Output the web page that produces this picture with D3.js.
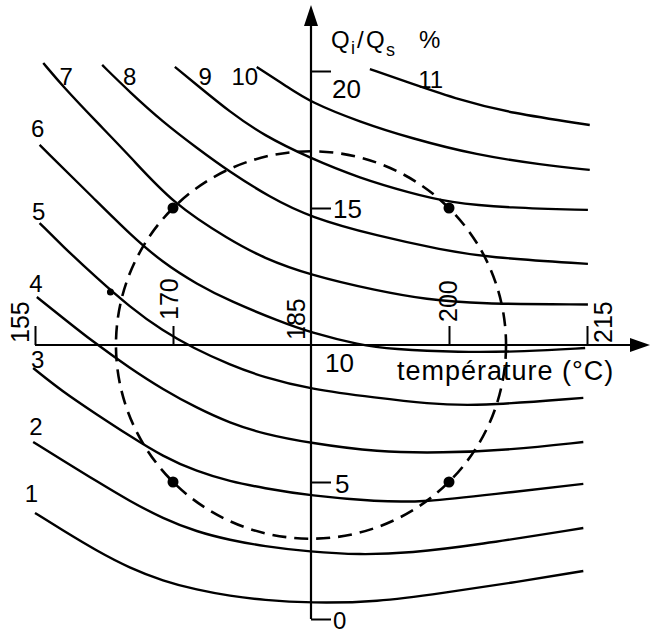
<!DOCTYPE html>
<html>
<head>
<meta charset="utf-8">
<script src="https://cdn.jsdelivr.net/npm/d3@7"></script>
<style>
  body { margin: 0; background: #fff; }
  svg { display: block; }
  text { font-family: "Liberation Sans", Arial, sans-serif; fill: #000; }
</style>
</head>
<body>
<div class="chart"></div>
<script>
// Iso-lines, [temperature °C, Qi/Qs %]
var curve1 = [[155.0,3.87],[158.0,3.24],[161.7,2.49],[165.3,1.86],[168.9,1.39],[172.6,1.06],[176.2,0.84],[179.8,0.69],[184.9,0.58],[192.2,0.62],[199.3,0.95],[206.6,1.31],[214.6,1.75]];
var curve2 = [[154.8,6.46],[158.0,5.79],[161.7,5.03],[165.3,4.30],[168.9,3.67],[172.6,3.18],[176.2,2.88],[179.8,2.66],[184.9,2.45],[190.3,2.34],[195.8,2.41],[203.0,2.70],[214.6,3.32]];
var curve3 = [[154.8,9.16],[158.0,8.30],[161.7,7.47],[165.3,6.68],[168.9,5.93],[172.6,5.38],[176.2,5.02],[179.8,4.78],[184.9,4.50],[192.2,4.28],[197.4,4.27],[204.7,4.55],[214.6,4.93]];
var curve4 = [[155.2,11.75],[158.0,11.00],[161.3,10.12],[165.3,9.16],[168.9,8.38],[172.6,7.70],[176.2,7.15],[179.8,6.76],[184.9,6.42],[192.2,6.09],[199.3,6.06],[206.6,6.17],[214.6,6.46]];
var curve5 = [[155.5,14.45],[158.0,13.61],[161.7,12.45],[165.3,11.39],[168.9,10.51],[172.2,9.89],[176.2,9.27],[179.8,8.83],[184.9,8.39],[192.2,8.07],[197.6,7.86],[203.0,7.76],[214.6,8.07]];
var curve6 = [[155.5,17.30],[161.7,15.25],[165.3,14.05],[168.9,13.00],[172.6,12.22],[176.2,11.60],[181.6,10.86],[184.9,10.46],[190.3,10.00],[193.8,9.85],[201.0,9.73],[208.3,9.76],[214.8,9.89]];
var curve7 = [[155.9,20.29],[158.0,19.45],[161.7,18.14],[165.3,16.90],[170.0,15.15],[176.2,13.83],[179.8,13.18],[184.9,12.55],[192.2,11.98],[197.6,11.66],[203.0,11.50],[215.1,11.48]];
var curve8 = [[162.3,20.22],[165.3,19.23],[168.9,18.14],[172.6,17.19],[176.2,16.31],[180.5,15.40],[184.9,14.66],[192.2,13.98],[199.3,13.47],[204.1,13.20],[215.1,12.96]];
var curve9 = [[170.2,20.15],[172.6,19.49],[176.2,18.50],[179.8,17.66],[184.9,16.82],[190.3,16.09],[195.8,15.55],[200.0,15.20],[206.6,15.00],[215.1,14.93]];
var curve10 = [[179.1,20.15],[182.4,19.43],[184.9,18.87],[190.3,18.14],[195.8,17.55],[203.0,16.93],[210.2,16.57],[215.3,16.39]];
var curve11 = [[191.4,20.07],[195.8,19.56],[201.2,18.94],[206.6,18.47],[215.3,18.03]];
var curves = [curve1, curve2, curve3, curve4, curve5, curve6, curve7, curve8, curve9, curve10, curve11];

// curve numbers and where they sit
var curveNames = ["1","2","3","4","5","6","7","8","9","10","11"];
var curveNamePos = [[154.6,4.27],[155.1,6.72],[155.3,9.16],[155.1,11.93],[155.4,14.56],[155.3,17.59],[158.4,19.49],[165.3,19.49],[173.5,19.49],[177.8,19.49],[198.0,19.38]];

// experimental design: centre, axial radius, factorial points
var designCentre = [185, 10];
var designRadius = [21.2, 7.07];
var designPoints = [[170,15],[200,15],[170,5],[200,5]];
var extraPoints = [[163.2,11.93]];

var xTicks = [155, 170, 185, 200, 215];
var yTicks = [0, 5, 10, 15, 20];

function init() {
  var w = 650;
  var h = 636;

  var x = d3.scaleLinear().domain([155, 215]).range([35, 587]);
  var y = d3.scaleLinear().domain([0, 20]).range([619, 71]);

  var svg = d3.select(".chart")
    .append("svg")
    .attr("width", w)
    .attr("height", h);

  svg.append("rect").attr("width", w).attr("height", h).attr("fill", "#fff");

  var ox = x(185), oy = y(10);

  // axis lines with arrows
  svg.append("line")
    .attr("x1", x(155)).attr("y1", oy).attr("x2", 634).attr("y2", oy)
    .attr("stroke", "#000").attr("stroke-width", 2);
  svg.append("path")
    .attr("d", "M650," + oy + "L630," + (oy - 7) + "L630," + (oy + 7) + "Z")
    .attr("fill", "#000");
  svg.append("line")
    .attr("x1", ox).attr("y1", y(0)).attr("x2", ox).attr("y2", 20)
    .attr("stroke", "#000").attr("stroke-width", 2.2);
  svg.append("path")
    .attr("d", "M" + ox + ",5L" + (ox - 7) + ",26L" + (ox + 7) + ",26Z")
    .attr("fill", "#000");

  // x ticks (pointing up, inside)
  var gx = svg.append("g")
    .attr("transform", "translate(0," + oy + ")")
    .call(d3.axisTop(x).tickValues(xTicks.filter(function (t) { return t !== 185; }))
      .tickSize(19).tickFormat(""));
  gx.select(".domain").remove();
  gx.selectAll(".tick line").attr("stroke", "#000").attr("stroke-width", 2);

  // y ticks (pointing right)
  var gy = svg.append("g")
    .attr("transform", "translate(" + ox + ",0)")
    .call(d3.axisRight(y).tickValues(yTicks.filter(function (t) { return t !== 10; }))
      .tickSize(20).tickFormat(""));
  gy.select(".domain").remove();
  gy.selectAll(".tick line").attr("stroke", "#000").attr("stroke-width", 2);

  // x tick labels, rotated
  var xLabelOff = { 155: [-15, -2], 170: [-4, -25], 185: [-15, -5], 200: [-1, -23], 215: [16, -2] };
  svg.selectAll(".xlab")
    .data(xTicks)
    .enter()
    .append("text")
    .attr("class", "xlab")
    .attr("transform", function (d) {
      return "translate(" + (x(d) + xLabelOff[d][0]) + "," + (oy + xLabelOff[d][1]) + ") rotate(-90)";
    })
    .attr("dominant-baseline", "central")
    .style("font-size", "25px")
    .text(function (d) { return d; });

  // y tick labels
  var yLabelOff = { 0: [22, 10], 5: [24, 11], 10: [14, 27], 15: [22, 10], 20: [21, 27] };
  svg.selectAll(".ylab")
    .data(yTicks)
    .enter()
    .append("text")
    .attr("class", "ylab")
    .attr("x", function (d) { return ox + yLabelOff[d][0]; })
    .attr("y", function (d) { return y(d) + yLabelOff[d][1]; })
    .style("font-size", function (d) { return d === 0 ? "24px" : "26px"; })
    .text(function (d) { return d; });

  // axis titles
  var yt = svg.append("g").style("font-size", "24px");
  yt.append("text").attr("x", 331).attr("y", 48).text("Q");
  yt.append("text").attr("x", 351).attr("y", 54).style("font-size", "18px").text("i");
  yt.append("text").attr("x", 357).attr("y", 48).text("/");
  yt.append("text").attr("x", 366).attr("y", 48).text("Q");
  yt.append("text").attr("x", 386).attr("y", 56).style("font-size", "18px").text("s");
  yt.append("text").attr("x", 419).attr("y", 48).text("%");

  svg.append("text")
    .attr("x", 397).attr("y", 380)
    .style("font-size", "27px")
    .style("letter-spacing", "1px")
    .text("température (°C)");

  // iso-lines
  var line = d3.line()
    .x(function (d) { return x(d[0]); })
    .y(function (d) { return y(d[1]); })
    .curve(d3.curveBasis);
  svg.selectAll(".iso")
    .data(curves)
    .enter()
    .append("path")
    .attr("class", "iso")
    .attr("fill", "none")
    .attr("stroke", "#000")
    .attr("stroke-width", 2.4)
    .attr("d", line);

  svg.selectAll(".isoname")
    .data(curveNames)
    .enter()
    .append("text")
    .attr("class", "isoname")
    .attr("x", function (d, i) { return x(curveNamePos[i][0]); })
    .attr("y", function (d, i) { return y(curveNamePos[i][1]); })
    .attr("text-anchor", "middle")
    .style("font-size", "24px")
    .text(function (d) { return d; });

  // dashed design circle
  svg.append("ellipse")
    .attr("cx", x(designCentre[0]))
    .attr("cy", y(designCentre[1]))
    .attr("rx", x(designCentre[0] + designRadius[0]) - x(designCentre[0]))
    .attr("ry", y(designCentre[1]) - y(designCentre[1] + designRadius[1]))
    .attr("fill", "none")
    .attr("stroke", "#000")
    .attr("stroke-width", 2.6)
    .attr("stroke-dasharray", "14,8");

  svg.selectAll(".pt")
    .data(designPoints)
    .enter()
    .append("circle")
    .attr("class", "pt")
    .attr("cx", function (d) { return x(d[0]); })
    .attr("cy", function (d) { return y(d[1]); })
    .attr("r", 5.5)
    .attr("fill", "#000");

  svg.selectAll(".pt2")
    .data(extraPoints)
    .enter()
    .append("circle")
    .attr("class", "pt2")
    .attr("cx", function (d) { return x(d[0]); })
    .attr("cy", function (d) { return y(d[1]); })
    .attr("r", 3.5)
    .attr("fill", "#000");
}
window.onload = init;
</script>
</body>
</html>
